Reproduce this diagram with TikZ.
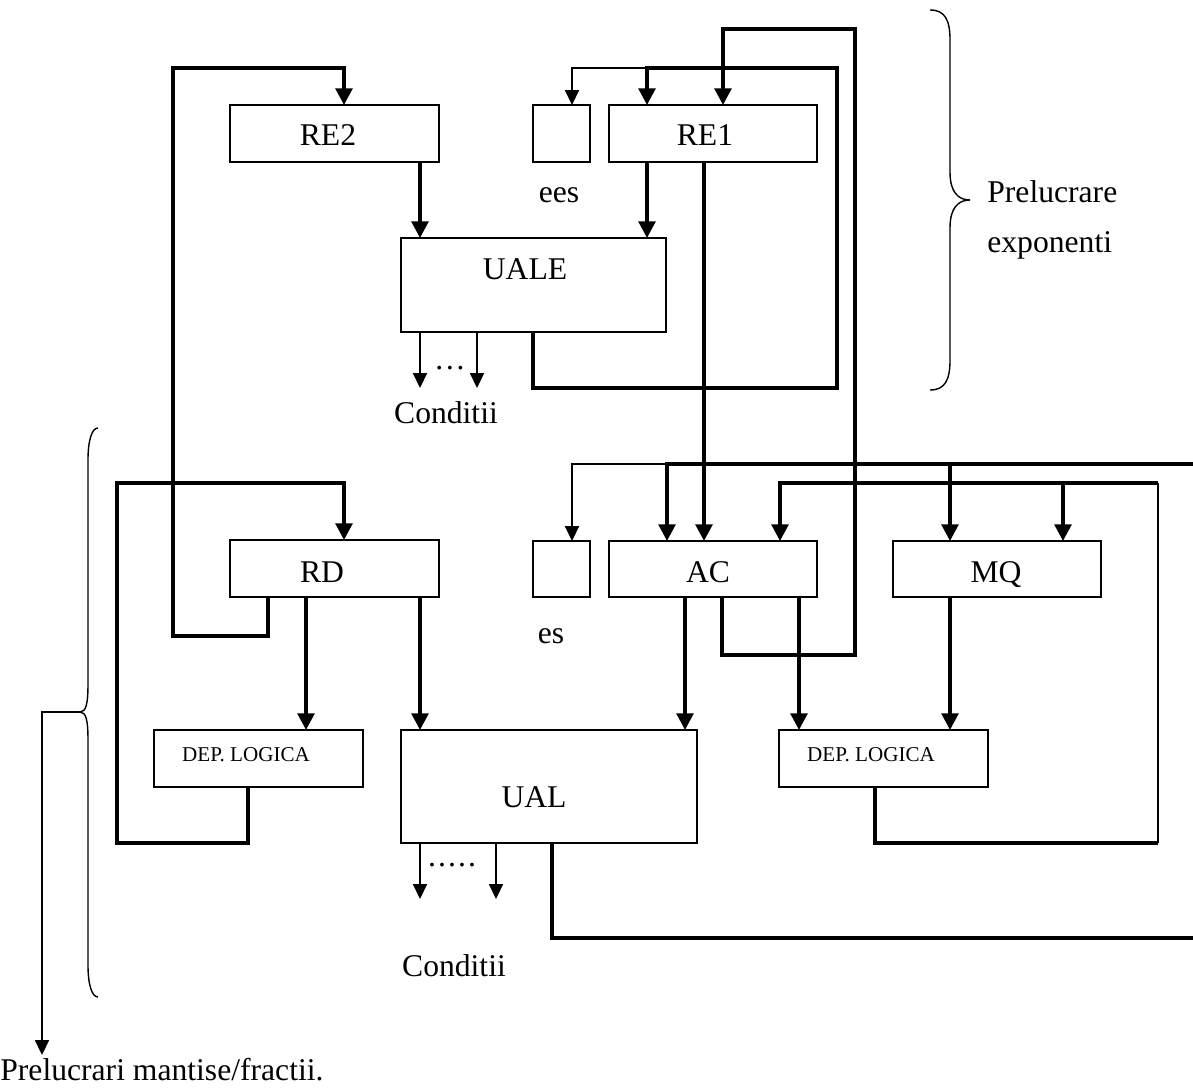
\documentclass[tikz,border=0pt]{standalone}
\usepackage{fontspec}
\setmainfont{Liberation Serif}
\usetikzlibrary{arrows.meta}
\begin{document}
\begin{tikzpicture}[x=0.02cm,y=-0.02cm,
  box/.style={draw, line width=0.9pt, inner sep=0pt, outer sep=0pt},
  bus/.style={line width=2.1pt, line join=miter},
  wire/.style={line width=0.9pt},
  midwire/.style={line width=1.2pt},
  tipbig/.style={-{Triangle[length=9.5pt,width=9.5pt]}},
  tipsmall/.style={-{Triangle[length=8.5pt,width=8pt]}},
  lbl/.style={anchor=base, inner sep=0pt, font=\fontsize{18}{21}\selectfont},
  lblw/.style={anchor=base west, inner sep=0pt, font=\fontsize{18}{21}\selectfont},
  small/.style={anchor=base, inner sep=0pt, font=\fontsize{12}{14}\selectfont},
]
\useasboundingbox (0,0) rectangle (1193,1088);

% ---- blocks: exponent part ----
\node[box, minimum width=4.18cm, minimum height=1.14cm] (re2)  at (334.5,133.5) {};
\node[box, minimum width=1.14cm, minimum height=1.14cm] (eesb) at (561.5,133.5) {};
\node[box, minimum width=4.16cm, minimum height=1.14cm] (re1)  at (713,133.5) {};
\node[box, minimum width=5.30cm, minimum height=1.88cm] (uale) at (533.5,285) {};

% ---- blocks: mantissa part ----
\node[box, minimum width=4.18cm, minimum height=1.14cm] (rd)   at (334.5,568.5) {};
\node[box, minimum width=1.14cm, minimum height=1.12cm] (esb)  at (561.5,569) {};
\node[box, minimum width=4.16cm, minimum height=1.12cm] (ac)   at (713,569) {};
\node[box, minimum width=4.16cm, minimum height=1.12cm] (mq)   at (997,569) {};
\node[box, minimum width=4.18cm, minimum height=1.14cm] (depl) at (258.5,758.5) {};
\node[box, minimum width=4.18cm, minimum height=1.14cm] (depr) at (883.5,758.5) {};
\node[box, minimum width=5.92cm, minimum height=2.26cm] (ual)  at (549,786.5) {};

% ---- texts ----
\node[lbl] (tre2)  at (328,145) {RE2};
\node[lbl] (tre1)  at (705,145) {RE1};
\node[lbl] (tees)  at (559,202) {ees};
\node[lbl] (tuale) at (525,279) {UALE};
\node[lbl] (tdots1) at (450,369) {…};
\node[lbl] (tcond1) at (446,423) {Conditii};
\node[lbl] (trd)   at (322,582) {RD};
\node[lbl] (tac)   at (708,582) {AC};
\node[lbl] (tmq)   at (996,582) {MQ};
\node[lbl] (tes)   at (551,643) {es};
\node[small] (tdepl) at (246,761) {DEP. LOGICA};
\node[small] (tdepr) at (871,761) {DEP. LOGICA};
\node[lbl] (tual)  at (534,807) {UAL};
\node[lbl] (tdots2) at (452,866) {.\kern1.2pt.\kern1.2pt.\kern1.2pt.\kern1.2pt.};
\node[lbl] (tcond2) at (454,976) {Conditii};
\node[lblw] (tpre1) at (987,202) {Prelucrare};
\node[lblw] (tpre2) at (987,252) {exponenti};
\node[lblw] (tman)  at (0,1080) {Prelucrari mantise/fractii.};

% ---- column positions ----
\foreach \c in {248,268,306,344,420,477,496,533,552,572,647,685,704,722,780,799,875,950,1063}
  \coordinate (x\c) at (\c,0);

% ---- bend points ----
\coordinate (L1) at (173,636);
\coordinate (L2) at (344,68);
\coordinate (T1) at (837,388);
\coordinate (T2) at (647,68);
\coordinate (A1) at (855,655);
\coordinate (A2) at (723,29);
\coordinate (B1) at (667,464);
\coordinate (E1) at (1193,464);
\coordinate (R1) at (1158,843);
\coordinate (R2) at (1158,483);
\coordinate (D1) at (117,843);
\coordinate (D2) at (344,483);
\coordinate (E2) at (1193,938);
\coordinate (C1) at (420,388);
\coordinate (C2) at (477,388);
\coordinate (C3) at (420,899);
\coordinate (C4) at (496,899);
\coordinate (lbtip) at (80,712);
\coordinate (M1) at (42,1055);

% ---- exponent connections ----
\draw[bus,tipbig] (rd.south -| x268) |- (L1) |- (L2) -- (re2.north -| L2);
\draw[bus,tipbig] (re2.south -| x420) -- (uale.north -| x420);
\draw[bus,tipbig] (re1.south -| x647) -- (uale.north -| x647);
\draw[bus,tipbig] (uale.south -| x533) |- (T1) |- (T2) -- (re1.north -| T2);
\draw[wire,tipsmall] (T2) -| (eesb.north -| x572);
\draw[bus,tipbig] (ac.south -| x722) |- (A1) |- (A2) -- (re1.north -| A2);
\draw[bus,tipbig] (re1.south -| x704) -- (ac.north -| x704);
\draw[wire,tipsmall] (uale.south -| x420) -- (C1);
\draw[wire,tipsmall] (uale.south -| x477) -- (C2);

% ---- mantissa connections ----
\draw[bus,tipbig] (E1) -| (ac.north -| B1);
\draw[bus,tipbig] (B1 -| x950) -- (mq.north -| x950);
\draw[wire,tipsmall] (B1) -| (esb.north -| x572);

\draw[bus] (depr.south -| x875) |- (R1);
\draw[midwire] (R1) -- (R2);
\draw[bus,tipbig] (R2) -| (ac.north -| x780);
\draw[bus,tipbig] (R2 -| x1063) -- (mq.north -| x1063);

\draw[bus,tipbig] (ac.south -| x685) -- (ual.north -| x685);
\draw[bus,tipbig] (ac.south -| x799) -- (depr.north -| x799);
\draw[bus,tipbig] (mq.south -| x950) -- (depr.north -| x950);
\draw[bus,tipbig] (rd.south -| x306) -- (depl.north -| x306);
\draw[bus,tipbig] (rd.south -| x420) -- (ual.north -| x420);
\draw[bus,tipbig] (depl.south -| x248) |- (D1) |- (D2) -- (rd.north -| D2);
\draw[wire,tipsmall] (ual.south -| x420) -- (C3);
\draw[wire,tipsmall] (ual.south -| x496) -- (C4);
\draw[bus] (ual.south -| x552) |- (E2);

% ---- braces ----
\draw[line width=0.8pt] (930,10) .. controls (945,10) and (950,20) .. (950,40)
  -- (950,172) .. controls (950,192) and (958,200) .. (970,200)
  .. controls (958,200) and (950,208) .. (950,228)
  -- (950,360) .. controls (950,380) and (945,390) .. (930,390);
\draw[line width=0.8pt] (98,428) .. controls (92,428) and (88,440) .. (88,460)
  -- (88,684) .. controls (88,704) and (86,712) .. (80,712)
  .. controls (86,712) and (88,720) .. (88,740)
  -- (88,965) .. controls (88,985) and (92,997) .. (98,997);
\draw[wire,tipsmall] (lbtip) -| (M1);
\end{tikzpicture}
\end{document}
